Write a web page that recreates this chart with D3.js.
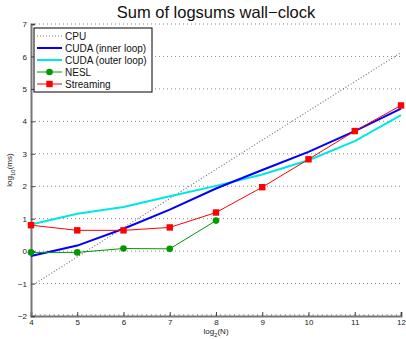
<!DOCTYPE html>
<html>
<head>
<meta charset="utf-8">
<script src="https://cdn.jsdelivr.net/npm/d3@7"></script>
<style>
  body { margin: 0; background: #fff; }
  svg { display: block; font-family: "Liberation Sans", Arial, sans-serif; }
</style>
</head>
<body>
<svg id="chart"></svg>
<script>
// data
const xs = [4, 5, 6, 7, 8, 9, 10, 11, 12];
const cpu = [-1.08, -0.18, 0.72, 1.62, 2.52, 3.42, 4.32, 5.22, 6.12];
const cudaInner = [-0.15, 0.17, 0.69, 1.28, 1.93, 2.5, 3.06, 3.7, 4.39];
const cudaOuter = [0.82, 1.15, 1.36, 1.69, 2.01, 2.36, 2.8, 3.39, 4.19];
const nesl = [-0.04, -0.04, 0.08, 0.07, 0.94];
const streaming = [0.8, 0.64, 0.64, 0.73, 1.19, 1.97, 2.83, 3.7, 4.49];
const yTicks = [-2, -1, 0, 1, 2, 3, 4, 5, 6, 7];
const xTicks = [4, 5, 6, 7, 8, 9, 10, 11, 12];

const width = 406, height = 339;
const margin = { top: 24, right: 5, bottom: 23, left: 31 };

const svg = d3.select("#chart").attr("width", width).attr("height", height);

const x = d3.scaleLinear().domain([4, 12]).range([margin.left, width - margin.right]);
const y = d3.scaleLinear().domain([-2, 7]).range([height - margin.bottom, margin.top]);

// dotted horizontal grid
svg.append("g")
  .selectAll("line")
  .data(yTicks.slice(1))
  .join("line")
  .attr("x1", x(4)).attr("x2", x(12))
  .attr("y1", d => y(d)).attr("y2", d => y(d))
  .attr("stroke", "#888")
  .attr("stroke-width", 1)
  .attr("stroke-dasharray", "1,3");

// minor ticks on x axis
const minor = d3.range(40, 121).map(d => d / 10);
svg.append("g")
  .selectAll("line")
  .data(minor)
  .join("line")
  .attr("x1", d => x(d)).attr("x2", d => x(d))
  .attr("y1", y(-2)).attr("y2", y(-2) - 2)
  .attr("stroke", "#666")
  .attr("stroke-width", 0.6);

// axes
const xAxis = svg.append("g")
  .attr("transform", `translate(0,${y(-2)})`)
  .call(d3.axisBottom(x).tickValues(xTicks).tickSize(-4).tickPadding(3).tickFormat(d3.format("d")));
const yAxis = svg.append("g")
  .attr("transform", `translate(${x(4)},0)`)
  .call(d3.axisLeft(y).tickValues(yTicks).tickSize(-4).tickPadding(4)
    .tickFormat(d => d < 0 ? "\u2212" + Math.abs(d) : d));

[xAxis, yAxis].forEach(g => {
  g.select(".domain").attr("stroke", "#777").attr("stroke-width", 2);
  g.selectAll(".tick line").attr("stroke", "#444");
  g.selectAll("text").attr("fill", "#222").style("font-size", "8px")
    .style("font-family", "'Liberation Sans', Arial, sans-serif");
});

// series
const line = d3.line().x((d, i) => x(xs[i])).y(d => y(d));

svg.append("path").datum(cpu)
  .attr("fill", "none").attr("stroke", "#777").attr("stroke-width", 1.2)
  .attr("stroke-dasharray", "1,2").attr("d", line);
svg.append("path").datum(cudaOuter)
  .attr("fill", "none").attr("stroke", "#00e6e6").attr("stroke-width", 2).attr("d", line);
svg.append("path").datum(cudaInner)
  .attr("fill", "none").attr("stroke", "#0000ff").attr("stroke-width", 2).attr("d", line);
svg.append("path").datum(nesl)
  .attr("fill", "none").attr("stroke", "#009900").attr("stroke-width", 1).attr("d", line);
svg.selectAll(".nesl").data(nesl).join("circle")
  .attr("class", "nesl")
  .attr("cx", (d, i) => x(xs[i])).attr("cy", d => y(d))
  .attr("r", 3.3).attr("fill", "#009900");
svg.append("path").datum(streaming)
  .attr("fill", "none").attr("stroke", "#ff0000").attr("stroke-width", 1).attr("d", line);
svg.selectAll(".stream").data(streaming).join("rect")
  .attr("class", "stream")
  .attr("x", (d, i) => x(xs[i]) - 3.2).attr("y", d => y(d) - 3.2)
  .attr("width", 6.4).attr("height", 6.4).attr("fill", "#ff0000");

// title and labels
svg.append("text")
  .attr("x", (x(4) + x(12)) / 2).attr("y", 18)
  .attr("text-anchor", "middle")
  .style("font-size", "16.5px").attr("fill", "#111")
  .text("Sum of logsums wall\u2212clock");

const xl = svg.append("text")
  .attr("x", (x(4) + x(12)) / 2).attr("y", 334)
  .attr("text-anchor", "middle")
  .style("font-size", "8px").attr("fill", "#222");
xl.append("tspan").text("log");
xl.append("tspan").attr("dy", 2.5).style("font-size", "6px").text("2");
xl.append("tspan").attr("dy", -2.5).text("(N)");

const yl = svg.append("text")
  .attr("transform", `translate(12,${(y(-2) + y(7)) / 2}) rotate(-90)`)
  .attr("text-anchor", "middle")
  .style("font-size", "8px").attr("fill", "#222");
yl.append("tspan").text("log");
yl.append("tspan").attr("dy", 2.5).style("font-size", "6px").text("10");
yl.append("tspan").attr("dy", -2.5).text("(ms)");

// legend
const legendItems = [
  { name: "CPU", color: "#777", width: 1.2, dash: "1,2" },
  { name: "CUDA (inner loop)", color: "#0000ff", width: 2 },
  { name: "CUDA (outer loop)", color: "#00e6e6", width: 2 },
  { name: "NESL", color: "#009900", width: 1, marker: "circle" },
  { name: "Streaming", color: "#ff0000", width: 1, marker: "square" }
];
const legend = svg.append("g").attr("transform", "translate(34,28)");
legend.append("rect")
  .attr("width", 118).attr("height", 64)
  .attr("fill", "#fff").attr("stroke", "#000").attr("stroke-width", 1);
legendItems.forEach((d, i) => {
  const g = legend.append("g").attr("transform", `translate(0,${8 + i * 12})`);
  g.append("line").attr("x1", 3).attr("x2", 28).attr("y1", 0).attr("y2", 0)
    .attr("stroke", d.color).attr("stroke-width", d.width)
    .attr("stroke-dasharray", d.dash || null);
  if (d.marker === "circle") {
    g.append("circle").attr("cx", 15.5).attr("cy", 0).attr("r", 3.3).attr("fill", d.color);
  } else if (d.marker === "square") {
    g.append("rect").attr("x", 12.3).attr("y", -3.2).attr("width", 6.4).attr("height", 6.4).attr("fill", d.color);
  }
  g.append("text").attr("x", 31).attr("y", 3.5)
    .style("font-size", "10px").attr("fill", "#111").text(d.name);
});
</script>
</body>
</html>
